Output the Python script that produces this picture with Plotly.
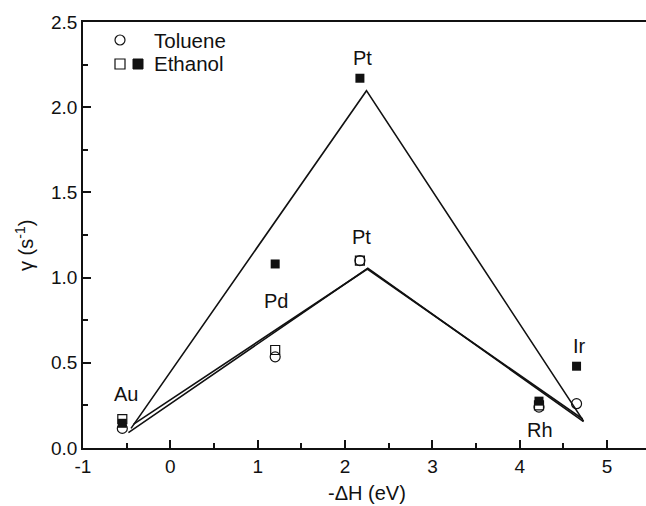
import plotly.graph_objects as go

# ---- data ----
metals = ["Au", "Pd", "Pt", "Rh", "Ir"]
dH = [-0.55, 1.2, 2.17, 4.22, 4.65]
toluene = [0.115, 0.535, 1.10, 0.24, 0.26]
ethanol_open = [0.17, 0.575, 1.10, 0.25, None]
ethanol_filled = [0.145, 1.08, 2.17, 0.275, 0.48]

fit_ethanol_x = [-0.45, 2.245, 4.73]
fit_ethanol_y = [0.115, 2.097, 0.158]
fit_toluene_x = [-0.48, 2.26, 4.73]
fit_toluene_y = [0.09, 1.055, 0.155]
fit_ethanol2_x = [-0.42, 2.255, 4.72]
fit_ethanol2_y = [0.14, 1.05, 0.17]

x_ticks = [-1, 0, 1, 2, 3, 4, 5]
x_ticktext = ["-1", "0", "1", "2", "3", "4", "5"]
y_ticks = [0.0, 0.5, 1.0, 1.5, 2.0, 2.5]

FONT = "Liberation Sans, Arial, sans-serif"
INK = "#111"

FW, FH = 646, 506
L, T, H = 83, 22, 426
W = FW - L
B = FH - T - H

def px(v):
    return (v - L) / W
def py(v):
    return (T + H - v) / H

fig = go.Figure()

for fx, fy in [(fit_ethanol_x, fit_ethanol_y), (fit_toluene_x, fit_toluene_y),
               (fit_ethanol2_x, fit_ethanol2_y)]:
    fig.add_trace(go.Scatter(x=fx, y=fy, mode="lines",
                             line=dict(color=INK, width=1.6), showlegend=False))

fig.add_trace(go.Scatter(x=dH, y=toluene, mode="markers", showlegend=False,
                         marker=dict(symbol="circle-open", size=10, color=INK,
                                     line=dict(width=1.2))))
fig.add_trace(go.Scatter(x=dH, y=ethanol_open, mode="markers", showlegend=False,
                         marker=dict(symbol="square-open", size=9, color=INK,
                                     line=dict(width=1.2))))
fig.add_trace(go.Scatter(x=dH, y=ethanol_filled, mode="markers", showlegend=False,
                         marker=dict(symbol="square", size=9, color=INK)))

# metal labels
labels = [("Pt", 2.2, 2.29), ("Pt", 2.19, 1.24), ("Pd", 1.206, 0.86),
          ("Au", -0.512, 0.315), ("Ir", 4.68, 0.60), ("Rh", 4.23, 0.106)]
for t, lx, ly in labels:
    fig.add_annotation(x=lx, y=ly, text=t, showarrow=False,
                       font=dict(family=FONT, size=20, color=INK))

# legend drawn manually
fig.add_shape(type="circle", xref="paper", yref="paper",
              x0=px(115), x1=px(125), y0=py(45), y1=py(35),
              line=dict(color=INK, width=1.2))
fig.add_shape(type="rect", xref="paper", yref="paper",
              x0=px(115), x1=px(125), y0=py(69), y1=py(59),
              line=dict(color=INK, width=1.2))
fig.add_shape(type="rect", xref="paper", yref="paper",
              x0=px(133), x1=px(143), y0=py(69), y1=py(59),
              line=dict(color=INK, width=1), fillcolor=INK)
fig.add_annotation(xref="paper", yref="paper", x=px(152), y=py(40), text="Toluene",
                   showarrow=False, xanchor="left", yanchor="middle",
                   font=dict(family=FONT, size=20.5, color=INK))
fig.add_annotation(xref="paper", yref="paper", x=px(152), y=py(64), text="Ethanol",
                   showarrow=False, xanchor="left", yanchor="middle",
                   font=dict(family=FONT, size=20.5, color=INK))

# axis titles
fig.add_annotation(xref="paper", yref="paper", x=px(367), y=py(493), text="-ΔH (eV)",
                   showarrow=False, xanchor="center", yanchor="middle",
                   font=dict(family=FONT, size=20, color=INK))
fig.add_annotation(xref="paper", yref="paper", x=px(24), y=py(246),
                   text="γ (s<sup>-1</sup>)", textangle=-90,
                   showarrow=False, xanchor="center", yanchor="middle",
                   font=dict(family=FONT, size=20, color=INK))

fig.update_layout(
    width=FW, height=FH,
    margin=dict(l=L, r=0, t=T, b=B, autoexpand=False),
    paper_bgcolor="white", plot_bgcolor="white",
    font=dict(family=FONT, size=19, color=INK),
    xaxis=dict(range=[-1, 5.445], tickvals=x_ticks, ticktext=x_ticktext,
               showgrid=False, zeroline=False, showline=True, linecolor=INK,
               linewidth=1.6, mirror=True, ticks="inside", ticklen=8,
               tickwidth=1.5, tickcolor=INK,
               minor=dict(ticks="inside", ticklen=5, dtick=0.5, tick0=-1,
                          tickwidth=1.5, tickcolor=INK, showgrid=False),
               tickfont=dict(family=FONT, size=19, color=INK)),
    yaxis=dict(range=[0, 2.5], tickvals=y_ticks, tickformat=".1f",
               showgrid=False, zeroline=False, showline=True, linecolor=INK,
               linewidth=1.6, ticks="inside", ticklen=8,
               tickwidth=1.5, tickcolor=INK,
               minor=dict(ticks="inside", ticklen=5, dtick=0.25, tick0=0,
                          tickwidth=1.5, tickcolor=INK, showgrid=False),
               tickfont=dict(family=FONT, size=19, color=INK)),
)

fig.write_html(
    "out.html",
    config={"displayModeBar": False},
    post_script="document.body.style.margin='0px';document.body.style.overflow='hidden';",
)
